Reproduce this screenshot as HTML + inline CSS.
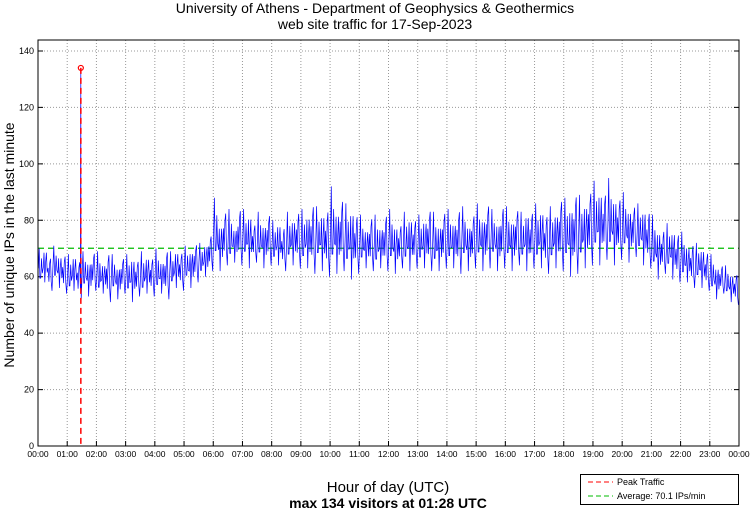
<!DOCTYPE html>
<html><head><meta charset="utf-8"><style>
body{margin:0;background:#fff;font-family:"Liberation Sans",sans-serif}
svg{display:block}
</style></head><body>
<svg id="c" width="750" height="511" xmlns="http://www.w3.org/2000/svg">
<text x="375" y="13" font-size="14" text-anchor="middle">University of Athens - Department of Geophysics &amp; Geothermics</text>
<text x="375" y="29" font-size="14" text-anchor="middle">web site traffic for 17-Sep-2023</text>
<text transform="translate(14,245) rotate(-90)" font-size="14" text-anchor="middle">Number of unique IPs in the last minute</text>
<text x="388" y="492" font-size="15" text-anchor="middle">Hour of day (UTC)</text>
<text x="388" y="508" font-size="14" font-weight="bold" text-anchor="middle">max 134 visitors at 01:28 UTC</text>
<g id="grid"></g>
<g id="ticks"></g>
<g id="series"></g>
<rect x="38" y="40" width="701" height="406" fill="none" stroke="#000" stroke-width="1"/>
<g>
<rect x="580.5" y="474.5" width="158" height="30" fill="#fff" stroke="#000"/>
<line x1="588" y1="482" x2="613" y2="482" stroke="#f00" stroke-dasharray="5,3"/>
<text x="617" y="485" font-size="9">Peak Traffic</text>
<line x1="588" y1="496" x2="613" y2="496" stroke="#0b0" stroke-dasharray="5,3"/>
<text x="617" y="499" font-size="9">Average: 70.1 IPs/min</text>
</g>
</svg>
<script>
const yTicks=[0,20,40,60,80,100,120,140];
const hourLabels=["00:00","01:00","02:00","03:00","04:00","05:00","06:00","07:00","08:00","09:00","10:00","11:00","12:00","13:00","14:00","15:00","16:00","17:00","18:00","19:00","20:00","21:00","22:00","23:00","00:00"];
const averageValue=70.1;
const peakMinute=88;
const peakValue=134;
const lowValues=[56,58,55,57,56,54,53,55,52,54,53,55,52,54,51,53,52,54,52,51,53,52,54,53,53,54,52,55,56,55,57,56,58,59,60,62,63,62,64,63,65,64,64,63,65,64,63,64,63,64,62,63,64,63,62,63,61,63,62,60,60,61,62,60,59,61,62,63,62,61,63,62,62,61,63,62,62,63,62,63,62,61,62,63,62,63,61,63,62,63,63,62,63,64,62,63,63,62,64,63,62,63,62,63,61,62,63,62,62,60,61,62,63,64,65,64,66,65,64,66,66,65,67,66,64,63,60,59,61,60,59,58,57,58,56,57,56,55,53,52,54,52,51,50];
const highValues=[70,72,68,71,70,69,68,70,67,69,68,70,69,67,70,68,66,68,68,70,67,69,70,68,70,68,71,69,72,70,71,72,73,72,74,76,88,82,85,84,80,86,84,86,80,83,82,84,80,82,79,83,84,85,84,86,88,85,87,86,92,88,90,86,89,84,82,80,83,82,81,84,84,82,80,83,85,82,82,84,86,83,82,85,84,83,86,85,82,84,86,85,88,84,83,87,85,84,86,83,87,85,86,88,84,85,87,90,88,90,92,89,91,93,94,96,92,95,93,90,90,88,87,86,88,85,82,80,78,79,80,77,76,74,73,72,73,70,68,66,65,64,63,62];
const X0=38,X1=739,Y0=446,YS=395/140;
function xs(m){return X0+m/1440*(X1-X0);}
function ys(v){return Y0-v*YS;}
const NS="http://www.w3.org/2000/svg";
function mk(p,t,a){const e=document.createElementNS(NS,t);for(const k in a)e.setAttribute(k,a[k]);p.appendChild(e);return e;}
const grid=document.getElementById('grid'),ticks=document.getElementById('ticks'),ser=document.getElementById('series');
hourLabels.forEach((l,i)=>{const x=xs(i*60);
 if(i>0&&i<24){const g=mk(grid,'line',{x1:x,y1:40,x2:x,y2:446,stroke:'#999','stroke-dasharray':'1,2'});
 
 }
 const t=mk(ticks,'line',{x1:x,y1:446,x2:x,y2:441,stroke:'#000'});
 
 
 const tx=mk(ticks,'text',{x:x,y:457,'font-size':8.5,'text-anchor':'middle'});tx.textContent=l;
 
 
});
yTicks.forEach(v=>{const y=ys(v);
 if(v>0){const g=mk(grid,'line',{x1:X0,y1:y,x2:X1,y2:y,stroke:'#999','stroke-dasharray':'1,2'});
 
 }
 const t=mk(ticks,'path',{d:`M${X0} ${y}h5M${X1} ${y}h-5`,stroke:'#000'});
 
 
 const tx=mk(ticks,'text',{x:34,y:y+3,'font-size':9,'text-anchor':'end'});tx.textContent=v;
 
 
});
const avg=mk(ser,'line',{x1:X0,y1:ys(averageValue),x2:X1,y2:ys(averageValue),stroke:'#0b0','stroke-width':1.3,'stroke-dasharray':'6,4'});


let pts=[];
lowValues.forEach((lo,i)=>{const hi=highValues[i],mid=(lo+hi)/2,m=i*10;
 const q=(hi-lo)/4;
 const pat=(i%3===0)?[mid,hi,mid-q,lo+q,mid+q,mid-q*0.5]:(i%3===1)?[mid-q*0.5,mid+q,lo,mid,hi-q,mid-q]:[mid+q*0.5,lo+q,mid+q,hi-q*0.5,mid-q,lo];
 pat.forEach((v,k)=>pts.push([m+0.8+k*1.6,v]));
 if(m<=peakMinute&&peakMinute<m+10)pts.push([peakMinute,peakValue],[peakMinute+0.3,mid]);
});
pts.sort((a,b)=>a[0]-b[0]);
const pl=mk(ser,'polyline',{points:pts.map(p=>xs(p[0]).toFixed(1)+','+ys(p[1]).toFixed(1)).join(' '),fill:'none',stroke:'#00f','stroke-width':0.7});


const pk=mk(ser,'line',{x1:xs(peakMinute),y1:ys(peakValue),x2:xs(peakMinute),y2:Y0,stroke:'#f00','stroke-width':1.5,'stroke-dasharray':'6,4'});


const pc=mk(ser,'circle',{cx:xs(peakMinute),cy:ys(peakValue),r:2.5,fill:'none',stroke:'#f00','stroke-width':1.2});


</script>
</body></html>
